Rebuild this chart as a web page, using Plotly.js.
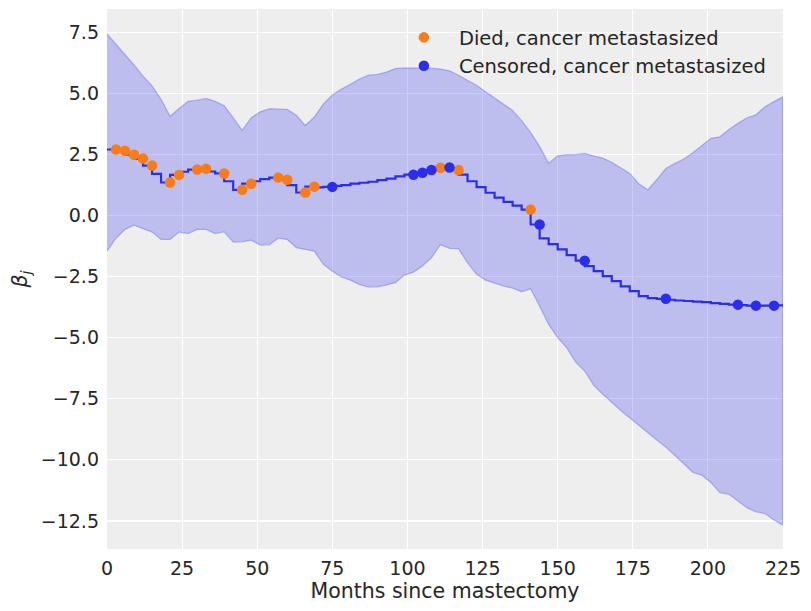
<!DOCTYPE html>
<html>
<head>
<meta charset="utf-8">
<script src="https://cdn.plot.ly/plotly-3.0.1.min.js"></script>
<style>
  html, body { margin: 0; padding: 0; background: #ffffff; }
  #chart { width: 811px; height: 611px; }
</style>
</head>
<body>
<div id="chart"></div>
<script>
// Interval start times (months), one every 3 months
const months = [];
for (let m = 0; m <= 225; m += 3) months.push(m);

// Posterior mean of the time-varying coefficient beta_j
const betaMean = [
  2.72, 2.70, 2.65, 2.49, 2.33, 2.04, 1.70, 1.35, 1.66, 1.79,
  1.88, 1.91, 1.80, 1.72, 1.40, 1.05, 1.30, 1.40, 1.49, 1.55,
  1.46, 1.24, 0.94, 1.18, 1.15, 1.17, 1.21, 1.24, 1.30, 1.34,
  1.38, 1.45, 1.51, 1.60, 1.67, 1.75, 1.86, 1.95, 1.96, 1.86,
  1.67, 1.40, 1.16, 0.93, 0.73, 0.56, 0.40, 0.24, -0.37, -0.94,
  -1.17, -1.39, -1.62, -1.85, -2.07, -2.28, -2.48, -2.69, -2.90, -3.10,
  -3.30, -3.38, -3.41, -3.45, -3.48, -3.50, -3.53, -3.55, -3.59, -3.62,
  -3.65, -3.67, -3.69, -3.69, -3.69, -3.68
];

// HDI bounds
const betaUpper = [
  7.43, 7.01, 6.58, 6.16, 5.70, 5.30, 4.75, 4.06, 4.38, 4.67,
  4.72, 4.79, 4.67, 4.49, 4.00, 3.48, 4.00, 4.24, 4.37, 4.35,
  4.34, 4.10, 3.68, 4.03, 4.56, 4.93, 5.17, 5.37, 5.58, 5.74,
  5.77, 5.87, 6.01, 6.04, 6.04, 6.05, 6.03, 5.99, 5.92, 5.74,
  5.52, 5.33, 5.06, 4.81, 4.56, 4.30, 3.88, 3.40, 2.82, 2.14,
  2.44, 2.49, 2.49, 2.54, 2.43, 2.35, 2.18, 1.94, 1.72, 1.30,
  1.05, 1.47, 1.92, 2.13, 2.31, 2.57, 2.86, 3.16, 3.22, 3.52,
  3.77, 4.00, 4.12, 4.45, 4.66, 4.86
];
const betaLower = [
  -1.46, -0.93, -0.57, -0.40, -0.54, -0.68, -0.98, -0.98, -0.68, -0.74,
  -0.57, -0.57, -0.74, -0.67, -1.09, -1.08, -1.01, -1.21, -1.20, -0.93,
  -0.98, -1.32, -1.39, -1.46, -2.00, -2.28, -2.51, -2.65, -2.82, -2.93,
  -2.92, -2.85, -2.75, -2.44, -2.32, -2.07, -1.73, -1.19, -1.35, -1.36,
  -1.94, -2.41, -2.65, -2.78, -2.89, -2.97, -3.12, -3.00, -3.71, -4.46,
  -5.00, -5.41, -6.00, -6.37, -6.95, -7.32, -7.64, -7.98, -8.27, -8.59,
  -8.89, -9.19, -9.48, -9.82, -10.16, -10.52, -10.63, -10.93, -11.34, -11.41,
  -11.69, -11.96, -12.13, -12.20, -12.46, -12.68
];

// Last observed interval of metastasized patients
const diedMonths = [3, 6, 9, 12, 15, 21, 24, 30, 33, 39, 45, 48, 57, 60, 66, 69, 111, 117, 141];
const censoredMonths = [75, 102, 105, 108, 114, 144, 159, 186, 210, 216, 222];

const betaAt = m => betaMean[months.indexOf(m)];

const BLUE = '#2a2eec';
const ORANGE = '#fa7c17';
const TEXT = '#262626';
const FONT = 'DejaVu Sans, sans-serif';

const band = {
  x: months.concat(months.slice().reverse()),
  y: betaUpper.concat(betaLower.slice().reverse()),
  type: 'scatter',
  mode: 'lines',
  fill: 'toself',
  fillcolor: 'rgba(42,46,236,0.25)',
  line: { color: 'rgba(42,46,236,0.28)', width: 1.3 },
  hoverinfo: 'skip',
  showlegend: false
};

const step = {
  x: months,
  y: betaMean,
  type: 'scatter',
  mode: 'lines',
  line: { color: BLUE, width: 2.2, shape: 'vh' },
  showlegend: false
};

const died = {
  x: diedMonths,
  y: diedMonths.map(betaAt),
  type: 'scatter',
  mode: 'markers',
  name: 'Died, cancer metastasized',
  legendgroup: 'a',
  marker: { color: ORANGE, size: 10.5 }
};

const censored = {
  x: censoredMonths,
  y: censoredMonths.map(betaAt),
  type: 'scatter',
  mode: 'markers',
  name: 'Censored, cancer metastasized',
  legendgroup: 'b',
  marker: { color: BLUE, size: 10.5 }
};

const layout = {
  width: 811,
  height: 611,
  margin: { l: 107, r: 28, t: 9, b: 62 },
  paper_bgcolor: '#ffffff',
  plot_bgcolor: '#eeeeee',
  font: { family: FONT, color: TEXT, size: 19 },
  showlegend: true,
  legend: {
    x: 0.417, xanchor: 'left',
    y: 0.983, yanchor: 'top',
    bgcolor: 'rgba(0,0,0,0)',
    borderwidth: 0,
    itemwidth: 60,
    tracegroupgap: 0,
    font: { family: FONT, size: 19.5, color: TEXT }
  },
  xaxis: {
    range: [0, 225],
    tickvals: [0, 25, 50, 75, 100, 125, 150, 175, 200, 225],
    showgrid: true,
    gridcolor: '#ffffff',
    gridwidth: 1.2,
    zeroline: false,
    showline: false,
    ticks: '',
    ticklabelstandoff: 6,
    tickfont: { family: FONT, size: 19, color: TEXT },
    title: { text: 'Months since mastectomy', standoff: 5, font: { family: FONT, size: 20.5, color: TEXT } }
  },
  yaxis: {
    range: [-13.65, 8.45],
    tickvals: [-12.5, -10, -7.5, -5, -2.5, 0, 2.5, 5, 7.5],
    ticktext: ['\u221212.5', '\u221210.0', '\u22127.5', '\u22125.0', '\u22122.5', '0.0', '2.5', '5.0', '7.5'],
    showgrid: true,
    gridcolor: '#ffffff',
    gridwidth: 1.2,
    zeroline: false,
    showline: false,
    ticks: '',
    ticklabelstandoff: 7,
    tickfont: { family: FONT, size: 19, color: TEXT },
    title: { text: '<i>β</i><sub><i>j</i></sub>', standoff: 7, font: { family: FONT, size: 20.5, color: TEXT } }
  }
};

Plotly.newPlot('chart', [band, step, died, censored], layout, { displayModeBar: false, staticPlot: true });
</script>
</body>
</html>
